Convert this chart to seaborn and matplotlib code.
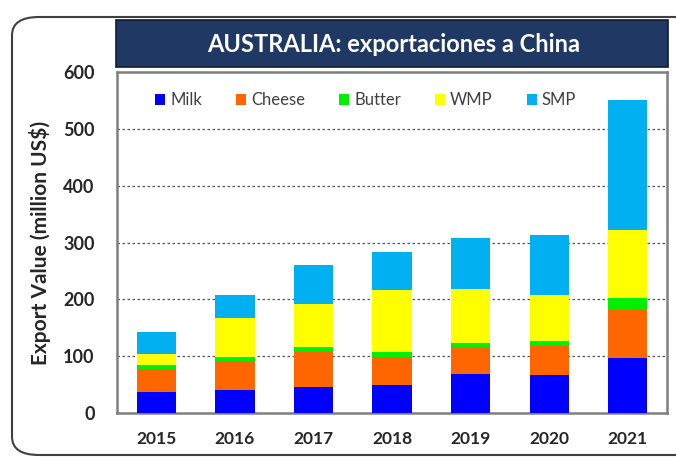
import matplotlib
matplotlib.use("Agg")
import matplotlib.pyplot as plt
from matplotlib.patches import FancyBboxPatch, Rectangle, Patch
import seaborn as sns
import pandas as pd
import numpy as np

years = ["2015", "2016", "2017", "2018", "2019", "2020", "2021"]
milk = [37, 40, 45, 50, 68, 67, 97]
cheese = [41, 52, 62, 49, 46, 51, 84]
butter = [7, 6, 9, 8, 9, 8, 22]
wmp = [19, 69, 76, 110, 95, 82, 119]
smp = [38, 40, 68, 66, 90, 106, 228]

series_names = ["Milk", "Cheese", "Butter", "WMP", "SMP"]
series_colors = ["#0000FF", "#FF6600", "#00EE00", "#FFFF00", "#00B0F0"]
title = "AUSTRALIA: exportaciones a China"
ylabel = "Export Value (million US$)"
yticks = [0, 100, 200, 300, 400, 500, 600]

sns.set_theme(style="white")
plt.rcParams["font.family"] = ["Lato", "DejaVu Sans"]

fig = plt.figure(figsize=(6.76, 4.57), dpi=100)
ax = fig.add_axes([117 / 676, 1 - 413 / 457, 550 / 676, 341 / 457])

df = pd.DataFrame({"Year": years, "Milk": milk, "Cheese": cheese,
                   "Butter": butter, "WMP": wmp, "SMP": smp})
cum = df[series_names].cumsum(axis=1)

# draw cumulative totals from top layer down
for name, color in reversed(list(zip(series_names, series_colors))):
    sns.barplot(x=df["Year"], y=cum[name], color=color, width=0.5,
                order=years, ax=ax, saturation=1, linewidth=0, zorder=3)

ax.set_xlim(-0.5, 6.5)
ax.set_ylim(0, 600)
ax.set_yticks(yticks)
ax.set_yticklabels([str(t) for t in yticks], fontsize=13, fontweight="bold", color="#262626")
ax.set_xticks(range(len(years)))
ax.set_xticklabels(years, fontsize=12.5, fontweight="bold", color="#262626")
ax.tick_params(axis="x", pad=13, length=0)
ax.tick_params(axis="y", pad=16, length=0)
ax.set_xlabel("")
ax.set_ylabel(ylabel, fontsize=15, fontweight="bold", color="#262626", labelpad=9)

for t in yticks[1:-1]:
    ax.axhline(t, color="#555555", linestyle=(0, (2, 2)), linewidth=0.9, zorder=1)

for s in ax.spines.values():
    s.set_color("#7f7f7f")
    s.set_linewidth(1.8)

handles = [Patch(facecolor=c, edgecolor="none", label=n) for n, c in zip(series_names, series_colors)]
leg = ax.legend(handles=handles, loc="upper left", bbox_to_anchor=(0.042, 0.985), ncol=5,
                frameon=False, fontsize=12, handlelength=0.6, handleheight=0.6,
                handletextpad=0.3, columnspacing=2.05)
for t in leg.get_texts():
    t.set_color("#404040")

# outer rounded border
border = FancyBboxPatch((12 / 676, 2 / 457), 700 / 676, (440 - 2) / 457,
                        boxstyle="round,pad=0,rounding_size=0.04",
                        transform=fig.transFigure, facecolor="none",
                        edgecolor="#404040", linewidth=1.5, clip_on=False)
fig.patches.append(border)

# title box
tbox = Rectangle((116 / 676, 1 - 67 / 457), 552 / 676, 47 / 457, transform=fig.transFigure,
                 facecolor="#203864", edgecolor="#101c33", linewidth=1.2)
fig.patches.append(tbox)
fig.text(394 / 676, 1 - 45 / 457, title, ha="center", va="center", color="white",
         fontsize=17, fontweight="bold")

fig.savefig("out.png", dpi=100)
